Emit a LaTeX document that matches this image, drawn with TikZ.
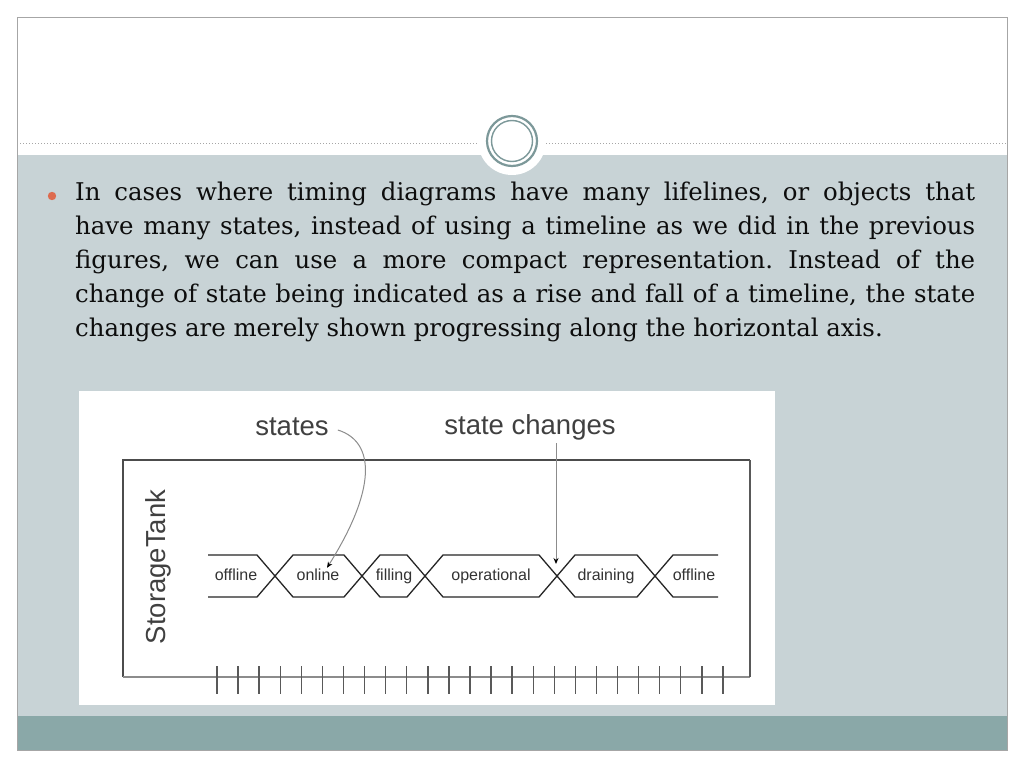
\documentclass[tikz,border=0pt]{standalone}
\usepackage{fontspec}
\setmainfont{DejaVu Serif}
\newfontfamily\labelfont{Liberation Sans}
\usetikzlibrary{arrows.meta}
\definecolor{bandgray}{HTML}{C8D3D6}
\definecolor{footteal}{HTML}{8AA8A8}
\definecolor{ringteal}{HTML}{7C9899}
\definecolor{bulletred}{HTML}{DD6B4F}
\tikzstyle{bodytext} = [inner sep=0pt, text width=900pt, align=justify, font=\fontsize{24.4}{34}\selectfont\frenchspacing, text=black!95]
\tikzstyle{bigtag} = [inner sep=1pt, font=\labelfont\fontsize{27.5}{29}\selectfont, text=black!75]
\tikzstyle{statename} = [inner sep=1pt, text height=11pt, text depth=3pt, font=\labelfont\fontsize{16}{18}\selectfont, text=black!80]
\tikzstyle{wave} = [black!85, line width=1.3pt]
\tikzstyle{pointer} = [black!45, line width=1pt, -{Stealth[black, length=6pt, width=5pt]}]
\tikzstyle{tick} = [black!65, line width=1.4pt]

\begin{document}
\begin{tikzpicture}[x=1pt, y=-1pt]
\useasboundingbox (0,0) rectangle (1024,768);
% slide background
\fill[white] (0,0) rectangle (1024,768);
\fill[bandgray] (17,155) rectangle (1007,716);
\fill[footteal] (17,716) rectangle (1007,750);
\draw[black!35, line width=0.8pt] (17,17) rectangle (1007,750);
\draw[black!35, dotted, line width=1pt] (17,143) -- (478,143);
\draw[black!35, dotted, line width=1pt] (546,143) -- (1007,143);
\fill[white] (512,141) circle (34);
\draw[ringteal, line width=2.2pt] (512,141) circle (25);
\draw[ringteal, line width=1.4pt] (512,141) circle (20.5);

% bullet text
\fill[bulletred] (52,196) circle (4.2);
\node[bodytext, anchor=north west] (para) at (75,182) {In cases where timing diagrams have many lifelines, or objects that\linebreak have many states, instead of using a timeline as we did in the previous\linebreak figures, we can use a more compact representation. Instead of the\linebreak change of state being indicated as a rise and fall of a timeline, the state\linebreak changes are merely shown progressing along the horizontal axis.};

% picture
\fill[white] (79,391) rectangle (775,705);
\draw[black!70, line width=1.4pt] (123,677) -- (123,460) -- (750,460);
\draw[black!45, line width=1.6pt] (123,677) -- (750,677);
\draw[black!65, line width=2.4pt] (750,460) -- (750,677);
\node[bigtag, rotate=90] (tank) at (158,567) {StorageTank};
\node[bigtag] (states) at (292,427) {states};
\node[bigtag] (changes) at (530,427) {state changes};

% state lanes
\draw[wave] (208,555) -- (257,555) -- (293,597) -- (344,597) -- (380,555) -- (407,555) -- (443,597) -- (539,597) -- (575,555) -- (637,555) -- (673,597) -- (718,597);
\draw[wave] (208,597) -- (257,597) -- (293,555) -- (344,555) -- (380,597) -- (407,597) -- (443,555) -- (539,555) -- (575,597) -- (637,597) -- (673,555) -- (718,555);
\node[statename] (off1) at (236,576) {offline};
\node[statename] (online) at (318,576) {online};
\node[statename] (filling) at (394,576) {filling};
\node[statename] (oper) at (491,576) {operational};
\node[statename] (drain) at (606,576) {draining};
\node[statename] (off2) at (694,576) {offline};
\coordinate (chgtop) at (556,443);
\coordinate (chgx) at (556,564);

\draw[pointer] ([xshift=8pt, yshift=-3pt]states.east) .. controls (376,442) and (376,490) .. ([xshift=9pt]online.north);
\draw[pointer] (chgtop) -- (chgx);

\foreach \i in {0,...,24}
  \draw[tick] ({217+21.08*\i},666) -- ({217+21.08*\i},694);
\end{tikzpicture}
\end{document}
